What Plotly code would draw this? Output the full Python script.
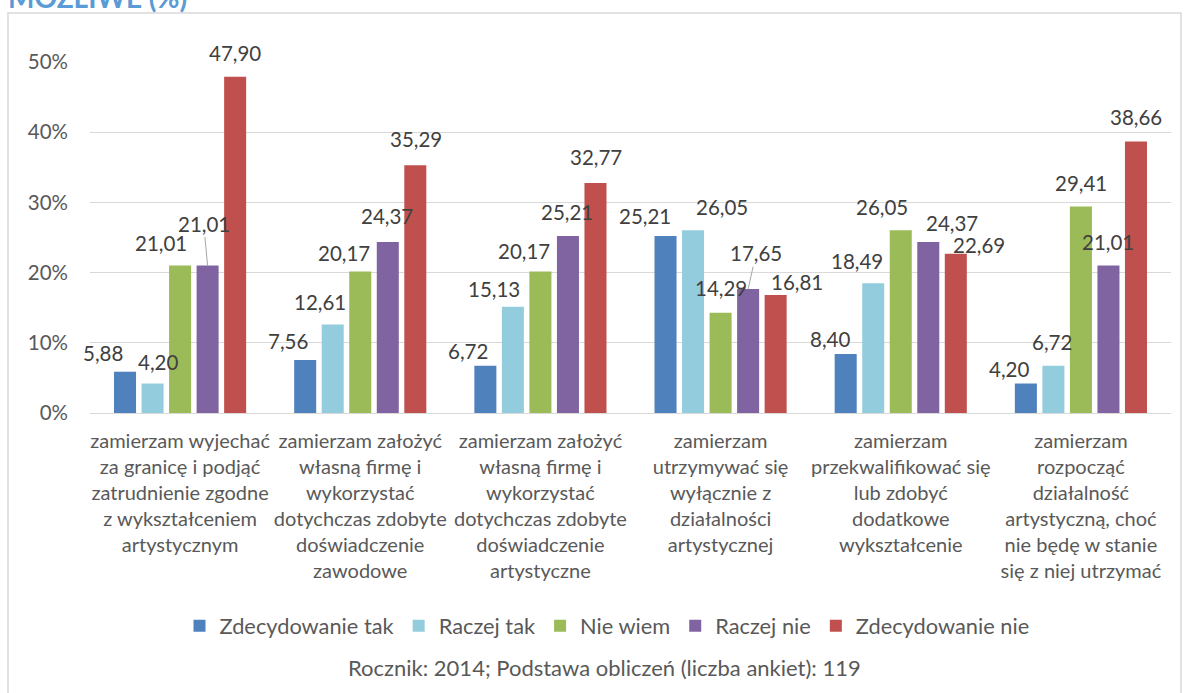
import plotly.graph_objects as go

# ---------------- data ----------------
categories = [
    "zamierzam wyjechać<br>za granicę i podjąć<br>zatrudnienie zgodne<br>z wykształceniem<br>artystycznym",
    "zamierzam założyć<br>własną firmę i<br>wykorzystać<br>dotychczas zdobyte<br>doświadczenie<br>zawodowe",
    "zamierzam założyć<br>własną firmę i<br>wykorzystać<br>dotychczas zdobyte<br>doświadczenie<br>artystyczne",
    "zamierzam<br>utrzymywać się<br>wyłącznie z<br>działalności<br>artystycznej",
    "zamierzam<br>przekwalifikować się<br>lub zdobyć<br>dodatkowe<br>wykształcenie",
    "zamierzam<br>rozpocząć<br>działalność<br>artystyczną, choć<br>nie będę w stanie<br>się z niej utrzymać",
]
series_names = ["Zdecydowanie tak", "Raczej tak", "Nie wiem", "Raczej nie", "Zdecydowanie nie"]
zdecydowanie_tak = [5.88, 7.56, 6.72, 25.21, 8.40, 4.20]
raczej_tak = [4.20, 12.61, 15.13, 26.05, 18.49, 6.72]
nie_wiem = [21.01, 20.17, 20.17, 14.29, 26.05, 29.41]
raczej_nie = [21.01, 24.37, 25.21, 17.65, 24.37, 21.01]
zdecydowanie_nie = [47.90, 35.29, 32.77, 16.81, 22.69, 38.66]
y_tick_values = [0, 10, 20, 30, 40, 50]
y_tick_labels = ["0%", "10%", "20%", "30%", "40%", "50%"]
title_text = "MOŻLIWE (%)"
footer_text = "Rocznik: 2014; Podstawa obliczeń (liczba ankiet): 119"

series_values = [zdecydowanie_tak, raczej_tak, nie_wiem, raczej_nie, zdecydowanie_nie]

# ---------------- style ----------------
colors = ["#4f81bd", "#93cddd", "#9bbb59", "#8064a2", "#c0504d"]
FONT = "Lato"
BARGAP = 0.236
BARGROUPGAP = 0.2
# data-label pixel adjustments (dx, height above bar top, leader line?) per category, per series
label_style = [
    [(-22, 19, 0), (5, 22, 0), (-19, 23, 0), (-4, 42, 1), (0, 24, 0)],
    [(-17, 19, 0), (-13, 22, 0), (-16, 18, 0), (-1, 26, 0), (1, 26, 0)],
    [(-17, 15, 0), (-19, 18, 0), (-16, 20, 0), (-1, 24, 0), (1, 26, 0)],
    [(-21, 20, 0), (29, 23, 0), (0, 25, 0), (8, 36, 1), (21, 13, 0)],
    [(-16, 15, 0), (-16, 22, 0), (-19, 23, 0), (24, 19, 0), (23, 9, 0)],
    [(-17, 15, 0), (-1, 24, 0), (0, 24, 0), (0, 24, 0), (0, 25, 0)],
]

W, H = 1185, 693
ML, MR, MT, MB = 90, 14, 62, 280
plot_h = H - MT - MB
plot_w = W - ML - MR


def py(px):
    return (H - MB - px) / plot_h


def pxx(px):
    return (px - ML) / plot_w


x_pos = list(range(len(categories)))

fig = go.Figure()
for name, vals, col in zip(series_names, series_values, colors):
    fig.add_trace(go.Bar(
        x=x_pos, y=vals, name=name, marker=dict(color=col, line=dict(width=0)),
        hoverinfo="y+name",
    ))

slot = (1 - BARGAP) / len(series_names)
annotations = []
for k in range(len(categories)):
    for i, vals in enumerate(series_values):
        v = vals[k]
        dx, above, leader = label_style[k][i]
        xc = k + (i - (len(series_names) - 1) / 2) * slot
        txt = f"{v:.2f}".replace(".", ",")
        if leader:
            annotations.append(dict(
                x=xc, y=v, xref="x", yref="y", text=txt, showarrow=True,
                ax=dx, ay=-above, arrowhead=0, arrowwidth=1, arrowcolor="#a6a6a6",
                standoff=0, startstandoff=0,
                font=dict(family=FONT, size=20.5, color="#404040"),
            ))
        else:
            annotations.append(dict(
                x=xc, y=v, xref="x", yref="y", text=txt, showarrow=False,
                xshift=dx, yshift=above, xanchor="center", yanchor="middle",
                font=dict(family=FONT, size=20.5, color="#404040"),
            ))

annotations.append(dict(
    x=pxx(604), y=py(667), xref="paper", yref="paper", text=footer_text,
    showarrow=False, xanchor="center", yanchor="middle",
    font=dict(family=FONT, size=22, color="#595959"),
))
annotations.append(dict(
    x=pxx(6), y=py(-3), xref="paper", yref="paper", text="<b>" + title_text + "</b>",
    showarrow=False, xanchor="left", yanchor="middle",
    font=dict(family=FONT, size=28, color="#5b9bd5"),
))

fig.update_layout(
    width=W, height=H,
    margin=dict(l=ML, r=MR, t=MT, b=MB, pad=0),
    paper_bgcolor="white", plot_bgcolor="white",
    barmode="group", bargap=BARGAP, bargroupgap=BARGROUPGAP,
    font=dict(family=FONT, size=20, color="#595959"),
    showlegend=True,
    legend=dict(
        orientation="h", x=pxx(607), xanchor="center", y=py(626), yanchor="middle",
        font=dict(family=FONT, size=21.8, color="#595959"), traceorder="normal",
        itemwidth=30, bgcolor="rgba(0,0,0,0)",
    ),
    annotations=annotations,
    shapes=[dict(
        type="rect", xref="paper", yref="paper",
        x0=pxx(8), x1=pxx(1181), y0=py(720), y1=py(13),
        line=dict(color="#d9d9d9", width=1.5), fillcolor="rgba(0,0,0,0)", layer="below",
    )],
)
fig.update_xaxes(
    range=[-0.5, len(categories) - 0.5], tickmode="array", tickvals=x_pos, ticktext=categories,
    showgrid=False, zeroline=False, showline=False, ticks="", tickangle=0,
    tickfont=dict(family=FONT, size=20, color="#595959"), ticklabelstandoff=14,
)
fig.update_yaxes(
    range=[0, 50], tickmode="array", tickvals=y_tick_values, ticktext=y_tick_labels,
    showgrid=True, gridcolor="#d9d9d9", gridwidth=1.3, zeroline=True, zerolinecolor="#d9d9d9",
    zerolinewidth=1.3, showline=False, ticks="",
    tickfont=dict(family=FONT, size=20.5, color="#595959"), ticklabelstandoff=21,
)

fig.write_html("out.html", config={"displayModeBar": False},
               post_script="document.body.style.margin='0';")
